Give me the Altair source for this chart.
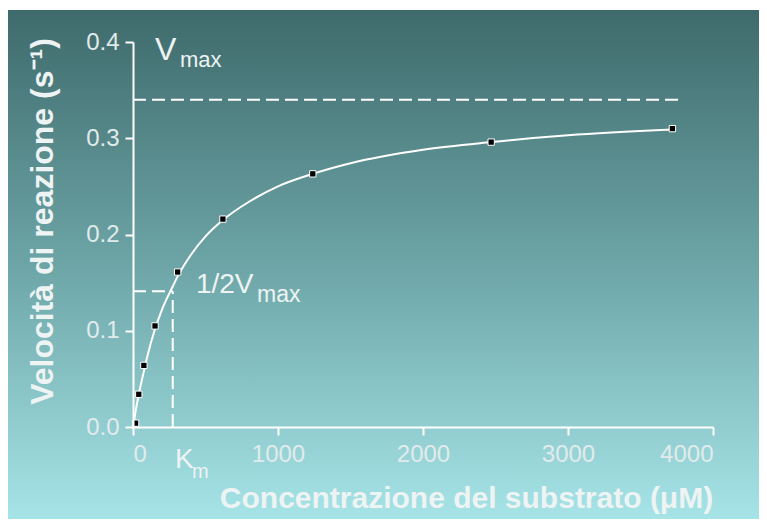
import altair as alt
import pandas as pd

# ---- data ----
point_s = [18, 40, 75, 152, 308, 620, 1240, 2470, 3720]
point_v = [0.004, 0.034, 0.064, 0.105, 0.161, 0.216, 0.263, 0.296, 0.310]

curve_s = [0, 20, 40, 75, 100, 150, 200, 274, 310, 400, 500, 620, 800, 1000, 1240, 1500, 2000, 2470, 3000, 3720]
curve_v = [0.0, 0.018, 0.034, 0.058, 0.074, 0.101, 0.122, 0.146, 0.157, 0.179, 0.198, 0.215, 0.234, 0.250, 0.263, 0.274, 0.288, 0.296, 0.303, 0.309]

vmax = 0.34
vmax_end = 3790
km = 274
half_v = 0.141

x_ticks = [0, 1000, 2000, 3000, 4000]
y_ticks = [0.0, 0.1, 0.2, 0.3, 0.4]

ann_text = ["V", "max", "1/2V", "max", "K", "m"]
ann_s = [152, 324, 434, 855, 290, 407]
ann_v = [0.381, 0.374, 0.139, 0.130, -0.0426, -0.053]
ann_fs = [32, 22, 28, 23, 28, 20]

FONT = "Liberation Sans"
TXT = "#eef3f3"
LBL = "#e2ebeb"

W, H = 580, 385
PAD = {"left": 125, "top": 34, "right": 46, "bottom": 92}

x_enc = alt.X(
    "s:Q",
    scale=alt.Scale(domain=[0, 4000], nice=False, zero=False),
    axis=alt.Axis(
        values=x_ticks, format="d", title="Concentrazione del substrato (μM)",
        grid=False, domainColor="white", domainWidth=2, tickColor="white",
        tickWidth=2, tickSize=8, labelColor=LBL, labelFontSize=24, labelFont=FONT,
        labelPadding=7, titleFont=FONT, titleFontSize=30, titleFontWeight="bold",
        titleColor=TXT, titleX=333, titleY=80, titleBaseline="alphabetic",
        titleAlign="center", titleAnchor="start", zindex=1,
    ),
)
y_enc = alt.Y(
    "v:Q",
    scale=alt.Scale(domain=[0, 0.4], nice=False, zero=False),
    axis=alt.Axis(
        values=y_ticks, format=".1f", title="Velocità di reazione (s⁻¹)",
        grid=False, domainColor="white", domainWidth=2, tickColor="white",
        tickWidth=2, tickSize=8, labelColor=LBL, labelFontSize=24, labelFont=FONT,
        labelPadding=6, titleFont=FONT, titleFontSize=32, titleFontWeight="bold",
        titleColor=TXT, titleX=-81, titleY=179, titleBaseline="alphabetic",
        titleAlign="center", titleAngle=270, titleAnchor="start", zindex=1,
    ),
)

gradient = alt.Gradient(
    gradient="linear",
    stops=[
        alt.GradientStop(color="#3e6a6b", offset=0),
        alt.GradientStop(color="#6da5a7", offset=0.5),
        alt.GradientStop(color="#a6e4e7", offset=1),
    ],
    x1=0, x2=0, y1=0, y2=1,
)

bg = alt.Chart(pd.DataFrame({"a": [0]})).mark_rect(fill=gradient, clip=False).encode(
    x=alt.value(-PAD["left"]), x2=alt.value(W + PAD["right"]),
    y=alt.value(-PAD["top"] + 2), y2=alt.value(H + PAD["bottom"]),
)

curve_df = pd.DataFrame({"s": curve_s, "v": curve_v})
curve = alt.Chart(curve_df).mark_line(color="white", strokeWidth=2, interpolate="monotone").encode(
    x=x_enc, y=y_enc
)

vmax_df = pd.DataFrame({"s": [0], "s2": [vmax_end], "v": [vmax]})
vmax_line = alt.Chart(vmax_df).mark_rule(color="white", strokeWidth=2, strokeDash=[13, 6]).encode(
    x=x_enc, x2=alt.X2("s2:Q"), y=y_enc
)

km_h_df = pd.DataFrame({"s": [0], "s2": [km], "v": [half_v]})
km_h = alt.Chart(km_h_df).mark_rule(color="white", strokeWidth=2, strokeDash=[13, 6]).encode(
    x=x_enc, x2=alt.X2("s2:Q"), y=y_enc
)
km_v_df = pd.DataFrame({"s": [km], "v": [0.0], "v2": [half_v]})
km_v = alt.Chart(km_v_df).mark_rule(color="white", strokeWidth=2, strokeDash=[13, 6]).encode(
    x=x_enc, y=y_enc, y2=alt.Y2("v2:Q")
)

pts_df = pd.DataFrame({"s": point_s, "v": point_v})
pts = alt.Chart(pts_df).mark_square(color="black", fill="black", opacity=1, size=40,
                                    stroke="white", strokeWidth=1).encode(x=x_enc, y=y_enc)

ann_df = pd.DataFrame({"s": ann_s, "v": ann_v, "t": ann_text, "fs": ann_fs})
ann = alt.Chart(ann_df).mark_text(align="left", baseline="alphabetic", color=TXT, font=FONT,
                                  clip=False).encode(
    x=x_enc, y=y_enc, text="t:N", size=alt.Size("fs:Q", scale=None, legend=None)
)

chart = alt.layer(bg, curve, vmax_line, km_h, km_v, pts, ann).properties(
    width=W, height=H, padding=PAD,
    autosize=alt.AutoSizeParams(type="none"),
    background="white",
).configure_view(stroke=None)

chart.save("out.html", embed_options={"renderer": "svg", "actions": False})
